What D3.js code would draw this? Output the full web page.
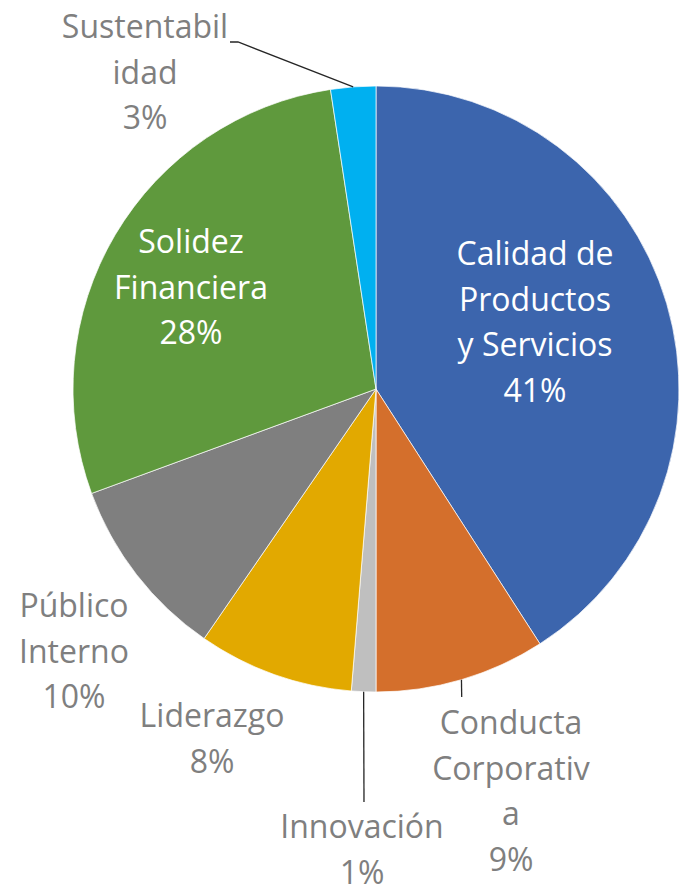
<!DOCTYPE html>
<html>
<head>
<meta charset="utf-8">
<script src="https://cdn.jsdelivr.net/npm/d3@7"></script>
<style>
  html, body { margin: 0; padding: 0; background: #fff; }
  svg { display: block; }
</style>
</head>
<body>
<svg id="chart" width="688" height="894"></svg>
<script>
// ---- data ----
const categories = ["Calidad de Productos y Servicios", "Conducta Corporativa", "Innovación", "Liderazgo", "Público Interno", "Solidez Financiera", "Sustentabilidad"];
const values = [40.9, 9.1, 1.3, 8.3, 9.8, 28.2, 2.4];
const pctLabels = ["41%", "9%", "1%", "8%", "10%", "28%", "3%"];
const labelLines = [
  ["Calidad de", "Productos", "y Servicios"],
  ["Conducta", "Corporativ", "a"],
  ["Innovación"],
  ["Liderazgo"],
  ["Público", "Interno"],
  ["Solidez", "Financiera"],
  ["Sustentabil", "idad"]
];

// ---- styles / layout ----
const colors = ["#3C65AD", "#D46F2C", "#BFBFBF", "#E2A900", "#7F7F7F", "#5F993D", "#00B0F0"];
const cx = 376, cy = 389, R = 303;
const lineH = 45.5;
const fontSize = 32;
// label block: center x, first baseline y, text colour
const labelLayout = [
  {x: 535, y: 265, fill: "#fff"},
  {x: 511, y: 734, fill: "#7F7F7F"},
  {x: 362, y: 838, fill: "#7F7F7F"},
  {x: 212, y: 727, fill: "#7F7F7F"},
  {x: 74,  y: 617, fill: "#7F7F7F"},
  {x: 191, y: 253, fill: "#fff"},
  {x: 145, y: 38,  fill: "#7F7F7F"}
];
// leader lines: extra points after the slice edge point (in page coords)
const leaders = {
  1: [[461.7, 697]],
  2: [[364, 802]],
  6: [[238, 42], [230, 42]]
};

const svg = d3.select("#chart");
const g = svg.append("g").attr("transform", `translate(${cx},${cy})`);

const pie = d3.pie().sort(null).value(d => d).startAngle(0).endAngle(2 * Math.PI);
const arcs = pie(values);
const arc = d3.arc().innerRadius(0).outerRadius(R);

g.selectAll("path.slice")
  .data(arcs)
  .enter().append("path")
  .attr("class", "slice")
  .attr("d", arc)
  .attr("fill", (d, i) => colors[i])
  .attr("stroke", "#fff")
  .attr("stroke-width", 0.7)
  .attr("stroke-linejoin", "round");

// leader lines
Object.keys(leaders).forEach(k => {
  const i = +k;
  const a = (arcs[i].startAngle + arcs[i].endAngle) / 2;
  const p0 = [cx + R * Math.sin(a), cy - R * Math.cos(a)];
  const pts = [p0].concat(leaders[k]);
  svg.append("path")
    .attr("d", d3.line()(pts))
    .attr("fill", "none")
    .attr("stroke", "#262626")
    .attr("stroke-width", 1.3);
});

// labels
categories.forEach((c, i) => {
  const L = labelLayout[i];
  const lines = labelLines[i].concat([pctLabels[i]]);
  const t = svg.append("text")
    .attr("text-anchor", "middle")
    .attr("font-family", "'Open Sans', 'Noto Sans', sans-serif")
    .attr("font-size", fontSize)
    .attr("fill", L.fill);
  lines.forEach((ln, j) => {
    t.append("tspan").attr("x", L.x).attr("y", L.y + j * lineH).text(ln);
  });
});
</script>
</body>
</html>
